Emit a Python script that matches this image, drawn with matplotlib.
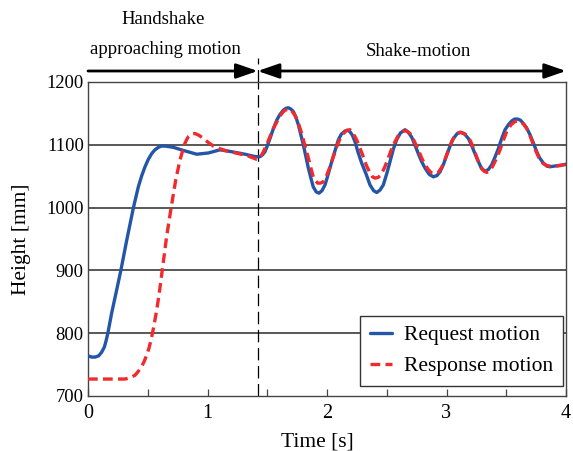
import matplotlib
matplotlib.use("Agg")
import matplotlib.pyplot as plt
from matplotlib.patches import FancyArrowPatch
from matplotlib.ticker import MultipleLocator

# ---- data ----
req_t = [0.0, 0.03, 0.06, 0.09, 0.115, 0.137, 0.15, 0.165, 0.198, 0.24, 0.276, 0.324,
         0.379, 0.421, 0.45, 0.477, 0.505, 0.533, 0.56, 0.589, 0.615, 0.644, 0.68, 0.714,
         0.798, 0.91, 1.007, 1.105, 1.202, 1.314, 1.38, 1.41, 1.439, 1.46, 1.481, 1.50,
         1.523, 1.55, 1.579, 1.605, 1.634, 1.655, 1.676, 1.697, 1.718, 1.74, 1.76, 1.802,
         1.844, 1.865, 1.885, 1.91, 1.933, 1.958, 1.983, 2.01, 2.039, 2.095, 2.12, 2.151,
         2.172, 2.192, 2.213, 2.234, 2.26, 2.29, 2.33, 2.36, 2.39, 2.416, 2.444, 2.471,
         2.50, 2.527, 2.555, 2.583, 2.615, 2.653, 2.68, 2.709, 2.735, 2.764, 2.79, 2.82,
         2.855, 2.89, 2.92, 2.946, 2.975, 3.002, 3.03, 3.057, 3.09, 3.121, 3.152, 3.183,
         3.21, 3.238, 3.265, 3.289, 3.308, 3.328, 3.352, 3.378, 3.405, 3.434, 3.46, 3.49,
         3.518, 3.546, 3.57, 3.596, 3.62, 3.643, 3.67, 3.699, 3.727, 3.755, 3.78, 3.81,
         3.84, 3.866, 3.9, 3.936, 3.97, 4.0]
req_h = [764, 762, 762, 764, 770, 778, 787, 799, 832, 869, 901, 948,
         999, 1033, 1051, 1065, 1077, 1086, 1092, 1096, 1098, 1098, 1097, 1096,
         1091, 1085, 1087, 1092, 1089, 1085, 1082, 1081, 1081, 1084, 1089, 1098,
         1110, 1125, 1139, 1148, 1155, 1158, 1159, 1157, 1153, 1144, 1132, 1100,
         1063, 1047, 1033, 1025, 1023, 1027, 1036, 1053, 1073, 1108, 1117, 1122,
         1123, 1121, 1115, 1105, 1088, 1071, 1052, 1036, 1027, 1024, 1028, 1036,
         1054, 1073, 1093, 1108, 1119, 1124, 1120, 1112, 1100, 1086, 1074, 1063,
         1053, 1049, 1051, 1057, 1069, 1084, 1098, 1110, 1118, 1120, 1117, 1110,
         1099, 1086, 1074, 1064, 1060, 1058, 1061, 1068, 1080, 1094, 1109, 1124,
         1132, 1138, 1141, 1141, 1139, 1134, 1127, 1116, 1103, 1089, 1079, 1071,
         1066, 1065, 1066, 1067, 1068, 1069]

res_t = [0.0, 0.31, 0.35, 0.393, 0.42, 0.449, 0.47, 0.491, 0.51, 0.527, 0.55, 0.575,
         0.595, 0.611, 0.658, 0.695, 0.734, 0.77, 0.806, 0.825, 0.84, 0.865, 0.895, 0.93,
         0.965, 1.005, 1.049, 1.10, 1.146, 1.258, 1.342, 1.41, 1.425, 1.439, 1.465, 1.495,
         1.551, 1.59, 1.621, 1.648, 1.676, 1.705, 1.732, 1.76, 1.788, 1.815, 1.844, 1.865,
         1.885, 1.903, 1.922, 1.945, 1.969, 1.995, 2.025, 2.055, 2.081, 2.11, 2.137, 2.165,
         2.192, 2.22, 2.248, 2.275, 2.304, 2.33, 2.36, 2.38, 2.402, 2.427, 2.452, 2.482,
         2.513, 2.54, 2.569, 2.60, 2.639, 2.665, 2.695, 2.73, 2.764, 2.79, 2.82, 2.85,
         2.876, 2.905, 2.931, 2.96, 2.987, 3.015, 3.043, 3.075, 3.11, 3.148, 3.183, 3.21,
         3.238, 3.265, 3.294, 3.315, 3.336, 3.36, 3.384, 3.415, 3.448, 3.475, 3.504, 3.54,
         3.573, 3.595, 3.615, 3.645, 3.671, 3.70, 3.727, 3.755, 3.782, 3.81, 3.838, 3.87,
         3.91, 3.955, 4.0]
res_h = [727, 727, 729, 733, 739, 747, 755, 765, 776, 789, 810, 837,
         862, 885, 954, 999, 1044, 1076, 1100, 1108, 1113, 1117, 1118, 1115,
         1110, 1104, 1098, 1094, 1091, 1086, 1082, 1077, 1077, 1079, 1088, 1100,
         1126, 1140, 1150, 1155, 1157, 1154, 1147, 1135, 1118, 1099, 1079, 1063,
         1049, 1043, 1039, 1039, 1041, 1050, 1065, 1082, 1097, 1110, 1118, 1123,
         1124, 1118, 1108, 1095, 1081, 1067, 1055, 1049, 1047, 1048, 1052, 1064,
         1079, 1093, 1105, 1116, 1122, 1122, 1118, 1106, 1092, 1080, 1068, 1060,
         1055, 1054, 1056, 1064, 1076, 1091, 1105, 1116, 1120, 1118, 1113, 1102,
         1088, 1074, 1062, 1058, 1056, 1059, 1065, 1077, 1092, 1107, 1121, 1132,
         1137, 1138, 1137, 1133, 1126, 1114, 1100, 1087, 1076, 1070, 1067, 1066,
         1066, 1067, 1069]

split_t = 1.42
grid_levels = [800, 900, 1000, 1100]
x_ticks = [0, 1, 2, 3, 4]
y_ticks = [700, 800, 900, 1000, 1100, 1200]

plt.rcParams['font.family'] = ['Liberation Serif', 'DejaVu Serif']
plt.rcParams['lines.scale_dashes'] = False

fig = plt.figure(figsize=(5.73, 4.51), dpi=100)
ax = fig.add_axes([88/573, 1-396/451, (566-88)/573, (396-82)/451])

for g in grid_levels:
    ax.axhline(g, color='#2a2a2a', lw=1.1, zorder=1)

ax.axvline(split_t, color='black', lw=0.9, dashes=(9, 4), zorder=1)
ax.plot([split_t, split_t], [1.0, (396-58)/314], transform=ax.get_xaxis_transform(),
        color='black', lw=0.9, dashes=(9, 4), clip_on=False)

ax.plot(req_t, req_h, color='#2356a8', lw=2.4, label='Request motion', zorder=3,
        solid_joinstyle='round', solid_capstyle='round')
ax.plot(res_t, res_h, color='#f02a2e', lw=2.4, dashes=(7, 3.8), label='Response motion',
        zorder=4, dash_joinstyle='round')

ax.set_xlim(0, 4)
ax.set_ylim(700, 1200)
ax.set_xticks(x_ticks)
ax.xaxis.set_minor_locator(MultipleLocator(0.5))
ax.set_yticks(y_ticks)
ax.tick_params(axis='x', which='both', direction='in', length=5, width=0.9,
               color='#444444', labelsize=14.5, pad=6)
ax.tick_params(axis='y', which='both', length=0, labelsize=13.3, pad=3)
for s in ax.spines.values():
    s.set_color('#444444')
    s.set_linewidth(1.0)

ax.set_xlabel('Time [s]', fontsize=15.5)
ax.xaxis.set_label_coords((317-88)/478, -0.115)
ax.set_ylabel('Height [mm]', fontsize=15.5)
ax.yaxis.set_label_coords(-(88-31)/478, 0.5)

leg = ax.legend(loc='lower right', bbox_to_anchor=(0.994, 0.032), borderaxespad=0,
                fontsize=15.5, handlelength=1.05, handletextpad=0.55, labelspacing=0.5,
                fancybox=False, framealpha=1, edgecolor='#333333', borderpad=0.45)
leg.get_frame().set_linewidth(1.0)

# header arrows and texts
tr = ax.get_xaxis_transform()
arrow_y = (396-71)/314
a1 = FancyArrowPatch((0, arrow_y), (split_t, arrow_y), transform=tr,
                     arrowstyle='-|>,head_length=13,head_width=4.5', mutation_scale=1,
                     lw=2, color='black', shrinkA=0, shrinkB=0, clip_on=False)
a2 = FancyArrowPatch((split_t, arrow_y), (4, arrow_y), transform=tr,
                     arrowstyle='<|-|>,head_length=13,head_width=4.5', mutation_scale=1,
                     lw=2, color='black', shrinkA=0, shrinkB=0, clip_on=False)
ax.add_patch(a1)
ax.add_patch(a2)

fig.text(163/573, 1-20/451, 'Handshake', ha='center', va='center', fontsize=13.5)
fig.text(165/573, 1-50/451, 'approaching motion', ha='center', va='center', fontsize=13.5)
fig.text(418/573, 1-52/451, 'Shake-motion', ha='center', va='center', fontsize=13.5)

fig.savefig('out.png', dpi=100)
